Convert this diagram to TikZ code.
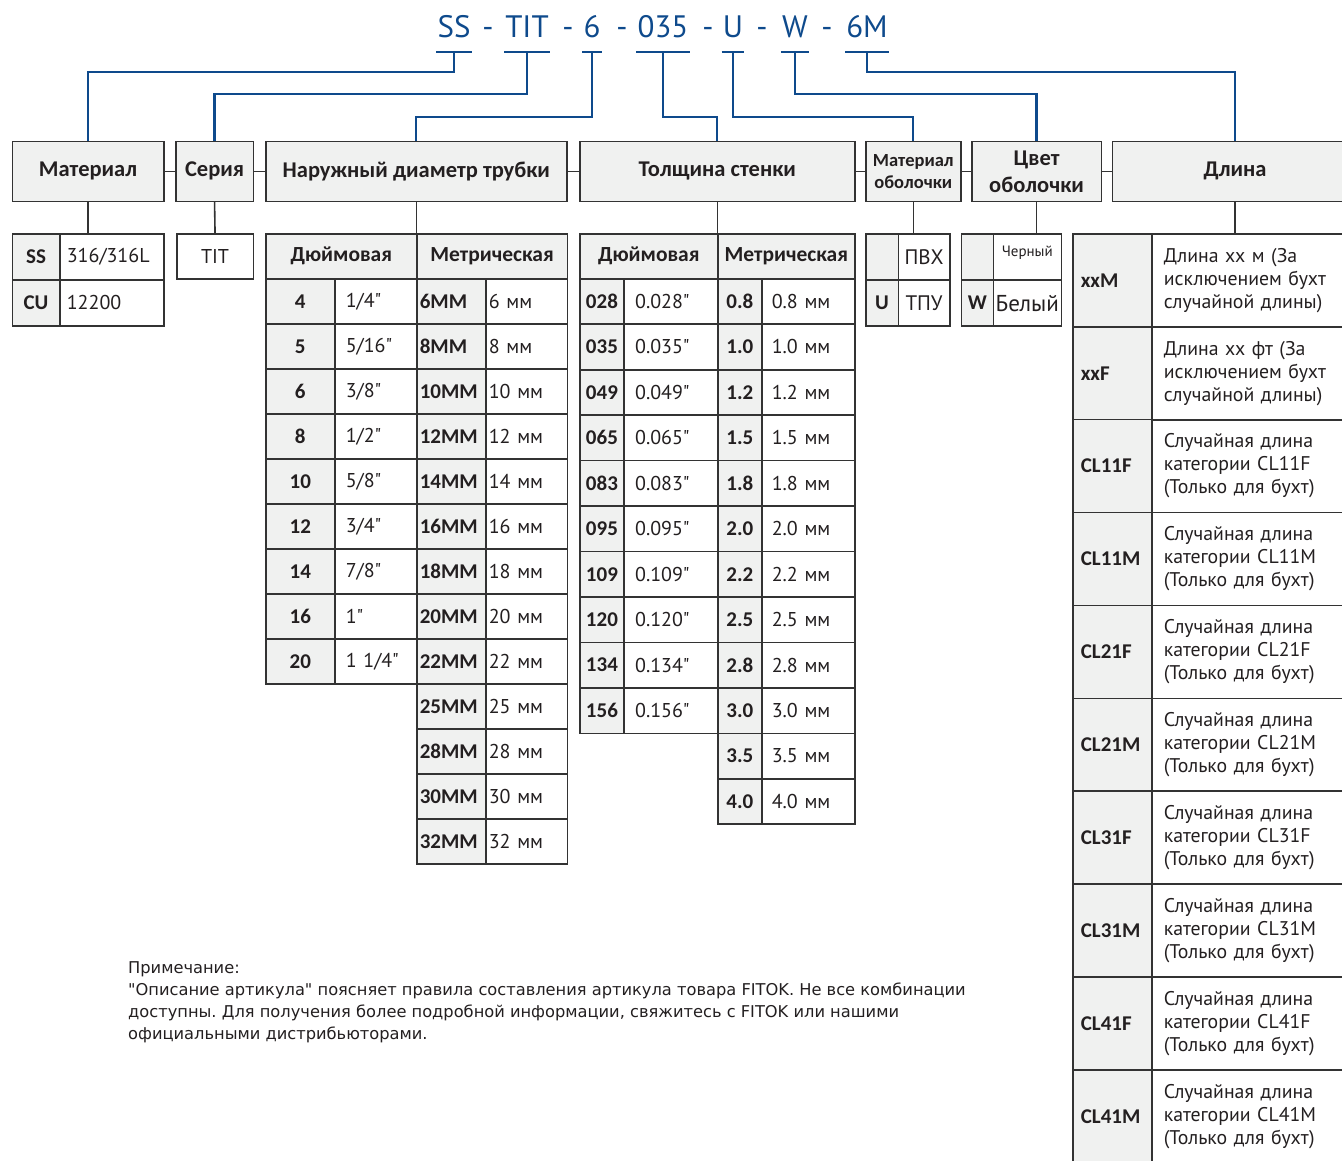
\documentclass[tikz,border=0pt]{standalone}
\usepackage{fontspec}
\newfontfamily\ptfont{PT Sans}
\newfontfamily\calfont{Carlito}
\newfontfamily\notefont{DejaVu Sans}
\definecolor{codeblue}{RGB}{14,74,140}
\definecolor{cellgray}{RGB}{240,241,240}
\definecolor{linegray}{RGB}{51,51,51}
\definecolor{textgray}{RGB}{35,31,32}
\frenchspacing

\begin{document}
\begin{tikzpicture}[
    x=1pt, y=-1pt,
    codeline/.style={codeblue, line width=2.2pt},
    tline/.style={linegray, line width=1.6pt},
    codetext/.style={text=codeblue, font=\ptfont\fontsize{31}{36}\selectfont, inner xsep=1pt, inner ysep=0pt, anchor=base},
    hbox/.style={draw=linegray, line width=1.6pt, fill=cellgray, anchor=north west, inner sep=0pt, minimum height=60pt, align=center, text=textgray, font=\calfont\bfseries\fontsize{22.5}{26}\selectfont},
    cell/.style={draw=linegray, line width=1.6pt, anchor=north west, inner sep=0pt, text=textgray},
    keycell/.style={cell, fill=cellgray, font=\calfont\bfseries\fontsize{21}{24}\selectfont},
    headcell/.style={keycell, minimum height=45pt, font=\calfont\bfseries\fontsize{21.5}{24}\selectfont},
    valc/.style={cell, font=\ptfont\fontsize{20}{23}\selectfont},
    valcell/.style={valc, align=left, inner xsep=#1},
    valcell/.default=4pt
  ]

  \useasboundingbox (0,0) rectangle (1342,1160);
  \clip (0,0) rectangle (1342,1160);

  % Header boxes
  \node[hbox, minimum width=151.5pt] (mat) at (11.5,140.5) {Материал};
  \node[hbox, minimum width=77.5pt] (ser) at (175,140.5) {Серия};
  \node[hbox, minimum width=301pt] (od) at (265,140.5) {Наружный диаметр трубки};
  \node[hbox, minimum width=275pt] (wall) at (579,140.5) {Толщина стенки};
  \node[hbox, minimum width=95pt, font=\calfont\bfseries\fontsize{18.5}{22}\selectfont] (jmat) at (865,140.5) {Материал\\оболочки};
  \node[hbox, minimum width=129.5pt, font=\calfont\bfseries\fontsize{22.5}{27}\selectfont] (jcol) at (971,140.5) {Цвет\\оболочки};
  \node[hbox, minimum width=245.5pt] (len) at (1111.5,140.5) {Длина};

  \foreach \a/\b in {mat/ser, ser/od, od/wall, wall/jmat, jmat/jcol, jcol/len}
    \draw[tline] (\a.east) -- (\b.west);

  % Part number
  \node[codetext] (cSS) at (454,37) {SS};
  \node[codetext] (cTIT) at (527,37) {TIT};
  \node[codetext] (c6) at (592,37) {6};
  \node[codetext] (c035) at (663,37) {035};
  \node[codetext] (cU) at (733,37) {U};
  \node[codetext] (cW) at (795,37) {W};
  \node[codetext] (c6M) at (867,37) {6M};
  \foreach \x [count=\i] in {488,568,622,708,762,827}
    \node[codetext] (dash\i) at (\x,37) {-};

  \foreach \c/\b/\d in {cSS/mat/20, cTIT/ser/42, c6/od/65, c035/wall/65, cU/jmat/65, cW/jcol/42, c6M/len/20} {
    \draw[codeline] ([yshift=-15pt]\c.base west) -- ([yshift=-15pt]\c.base east);
    \draw[codeline] ([yshift=-15pt]\c.base) -- ++(0,\d) -| (\b.north);
  }

  % Material
  \foreach \k/\v [count=\i from 0] in {SS/{316/316L}, CU/12200} {
    \node[keycell, minimum width=47.5pt, minimum height=46pt] (m\k) at (11.5,233+46*\i) {\k};
    \node[valcell=7pt, text width=90pt, minimum height=46pt] (m\k v) at (59,233+46*\i) {\v};
  }
  \node[valc, minimum width=76.5pt, minimum height=45pt] (tit) at (176,233) {TIT};

  % Outer diameter
  \node[headcell, minimum width=151pt] (odin) at (265,233) {Дюймовая};
  \node[headcell, minimum width=150.5pt] (odmm) at (416,233) {Метрическая};
  \foreach \k/\v [count=\i from 0] in {4/{1/4"}, 5/{5/16"}, 6/{3/8"}, 8/{1/2"}, 10/{5/8"}, 12/{3/4"}, 14/{7/8"}, 16/{1"}, 20/{1 1/4"}} {
    \node[keycell, minimum width=69pt, minimum height=45pt] (odk\i) at (265,278+45*\i) {\k};
    \node[valcell=11pt, text width=60pt, minimum height=45pt] (odv\i) at (334,278+45*\i) {\v};
  }
  \foreach \m [count=\i from 0] in {6,8,10,12,14,16,18,20,22,25,28,30,32} {
    \node[keycell, align=left, inner xsep=3pt, text width=63pt, minimum height=45pt] (odmk\i) at (416,278+45*\i) {\m MM};
    \node[valcell=3pt, text width=75.5pt, minimum height=45pt] (odmv\i) at (485,278+45*\i) {\m\ мм};
  }

  % Wall thickness
  \node[headcell, minimum width=138pt] (wallin) at (579,233) {Дюймовая};
  \node[headcell, minimum width=137pt] (wallmm) at (717,233) {Метрическая};
  \foreach \c [count=\i from 0] in {028,035,049,065,083,095,109,120,134,156} {
    \node[keycell, minimum width=44.3pt, minimum height=45.45pt] (wk\i) at (579,278+45.45*\i) {\c};
    \node[valcell=11pt, text width=71.7pt, minimum height=45.45pt] (wv\i) at (623.3,278+45.45*\i) {0.\c"};
  }
  \foreach \m [count=\i from 0] in {0.8,1.0,1.2,1.5,1.8,2.0,2.2,2.5,2.8,3.0,3.5,4.0} {
    \node[keycell, minimum width=44pt, minimum height=45.45pt] (wmk\i) at (717,278+45.45*\i) {\m};
    \node[valcell=10pt, text width=73pt, minimum height=45.45pt] (wmv\i) at (761,278+45.45*\i) {\m\ мм};
  }

  % Jacket material and colour
  \node[keycell, minimum width=32.5pt, minimum height=46pt] (jk1) at (865,233.3) {};
  \node[valc, minimum width=51.5pt, minimum height=46pt, font=\ptfont\fontsize{21}{24}\selectfont] (jv1) at (897.5,233.3) {ПВХ};
  \node[keycell, minimum width=32.5pt, minimum height=46pt] (jk2) at (865,279.3) {U};
  \node[valc, minimum width=51.5pt, minimum height=46pt, font=\ptfont\fontsize{21}{24}\selectfont] (jv2) at (897.5,279.3) {ТПУ};

  \node[keycell, minimum width=32pt, minimum height=46pt] (ck1) at (960.5,233.3) {};
  \node[valc, minimum width=68pt, minimum height=46pt, text depth=12pt, font=\ptfont\fontsize{15}{17}\selectfont] (cv1) at (992.5,233.3) {Черный};
  \node[keycell, minimum width=32pt, minimum height=46pt] (ck2) at (960.5,279.3) {W};
  \node[valc, minimum width=68pt, minimum height=46pt, font=\ptfont\fontsize{23}{26}\selectfont] (cv2) at (992.5,279.3) {Белый};

  % Length
  \node[keycell, align=left, inner xsep=8pt, text width=63pt, minimum height=93pt] (lk0) at (1072,233) {xxM};
  \node[valcell=12pt, text width=182pt, minimum height=93pt, font=\ptfont\fontsize{19.8}{23}\selectfont] (lv0) at (1151,233) {Длина xx м (За\\исключением бухт\\случайной длины)};
  \node[keycell, align=left, inner xsep=8pt, text width=63pt, minimum height=93pt] (lk1) at (1072,326) {xxF};
  \node[valcell=12pt, text width=182pt, minimum height=93pt, font=\ptfont\fontsize{19.8}{23}\selectfont] (lv1) at (1151,326) {Длина xx фт (За\\исключением бухт\\случайной длины)};
  \foreach \k [count=\i from 2] in {CL11F,CL11M,CL21F,CL21M,CL31F,CL31M,CL41F,CL41M} {
    \node[keycell, align=left, inner xsep=8pt, text width=63pt, minimum height=93pt] (lk\i) at (1072,233+92.9*\i) {\k};
    \node[valcell=12pt, text width=182pt, minimum height=93pt, font=\ptfont\fontsize{19.8}{23}\selectfont] (lv\i) at (1151,233+92.9*\i) {Случайная длина\\категории \k\\(Только для бухт)};
  }

  % Stubs from header boxes to tables
  \draw[tline] (mat.south) -- (mat.south |- mSS.north);
  \draw[tline] (ser.south) -- (tit.north);
  \draw[tline] (od.south) -- (od.south |- odin.north);
  \draw[tline] (wall.south) -- (wall.south |- wallin.north);
  \draw[tline] (jmat.south) -- (jmat.south |- jk1.north);
  \draw[tline] (jcol.south) -- (jcol.south |- ck1.north);
  \draw[tline] (len.south) -- (len.south |- lk0.north);

  % Note
  \node[anchor=north west, inner sep=0pt, align=left, text=textgray, font=\notefont\fontsize{16.25}{22.3}\selectfont] (note) at (128,961) {Примечание:\\"Описание артикула" поясняет правила составления артикула товара FITOK. Не все комбинации\\доступны. Для получения более подробной информации, свяжитесь с FITOK или нашими\\официальными дистрибьюторами.};

\end{tikzpicture}
\end{document}
